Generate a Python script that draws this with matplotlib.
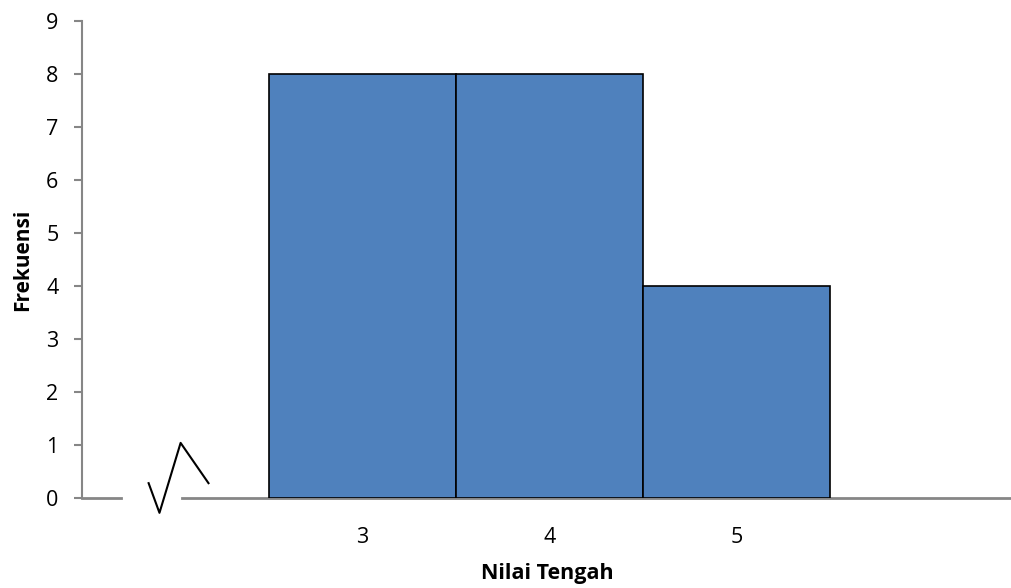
"""Histogram frekuensi terhadap nilai tengah kelas, dengan tanda patahan sumbu."""
import matplotlib
matplotlib.use("Agg")
import matplotlib.pyplot as plt
from matplotlib.lines import Line2D

# --- data ---------------------------------------------------------------------
nilai_tengah = [3, 4, 5]
frekuensi = [8, 8, 4]
y_ticks = list(range(0, 10))

C_BAR = "#4f81bd"
C_AXIS = "#868686"
FONT = "Open Sans"
# -----------------------------------------------------------------------------

plt.rcParams["font.family"] = [FONT, "DejaVu Sans"]

fig = plt.figure(figsize=(10.12, 5.88), dpi=100)
ax = fig.add_axes([82 / 1012, 90 / 588, 1 - 82 / 1012, 477 / 588])

ax.bar(nilai_tengah, frekuensi, width=1.0, color=C_BAR,
       edgecolor="black", linewidth=1.2, zorder=3)

ax.set_xlim(1.5, 6.47)
ax.set_ylim(0, 9)
ax.set_yticks(y_ticks)
ax.set_xticks(nilai_tengah)

for s in ("top", "right"):
    ax.spines[s].set_visible(False)
ax.spines["bottom"].set_visible(False)
ax.spines["left"].set_color(C_AXIS)
ax.spines["left"].set_linewidth(1.5)

ax.tick_params(axis="y", colors=C_AXIS, length=6, width=1.5,
               labelcolor="black", labelsize=15.5, pad=11)
ax.tick_params(axis="x", length=0, labelsize=15.5, pad=21)

# sumbu x digambar dua potong supaya ada celah untuk tanda patahan
gap0, gap1 = 1.711, 2.037
tr = ax.get_xaxis_transform()
ax.add_line(Line2D([1.5, gap0], [0, 0], transform=tr, color=C_AXIS,
                   lw=2, clip_on=False, zorder=2))
ax.add_line(Line2D([gap1, 6.47], [0, 0], transform=tr, color=C_AXIS,
                   lw=2, clip_on=False, zorder=2))

# tanda patahan (zigzag)
zx = [1.856, 1.914, 2.027, 2.176]
zy = [0.28, -0.28, 1.04, 0.28]
ax.add_line(Line2D(zx, zy, color="black", lw=1.5, clip_on=False, zorder=4))

ax.set_ylabel("Frekuensi", fontsize=15, fontweight="bold", labelpad=9)
ax.set_xlabel("Nilai Tengah", fontsize=15.5, fontweight="bold", labelpad=11)

fig.savefig("out.png", dpi=100)
